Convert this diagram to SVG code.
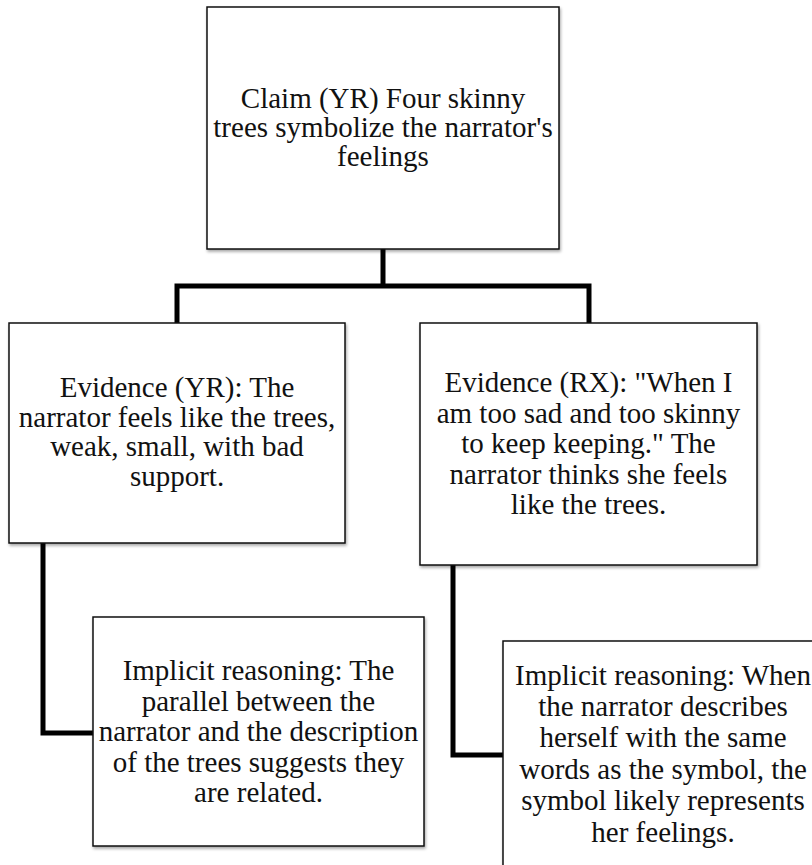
<svg xmlns="http://www.w3.org/2000/svg" width="812" height="865" viewBox="0 0 812 865">
<defs>
<filter id="sh" x="-5%" y="-5%" width="115%" height="115%">
<feDropShadow dx="1" dy="2" stdDeviation="1.5" flood-color="#000" flood-opacity="0.35"/>
</filter>
</defs>
<style>
.box{fill:#fff;stroke:#111;stroke-width:1.5;filter:url(#sh)}
.t{font-family:"Liberation Serif","Times New Roman",serif;font-size:29px;fill:#111;text-anchor:middle}
.c{fill:none;stroke:#000;stroke-width:5;stroke-linejoin:miter;stroke-linecap:square}
</style>
<rect width="812" height="865" fill="#fff"/>
<g id="connectors">
<path class="c" d="M383,250 V286 M177,286 H589 M177,286 V322 M589,286 V322"/>
<path class="c" d="M43,544 V733 H92"/>
<path class="c" d="M453,566 V755 H502"/>
</g>
<g id="claim">
<rect class="box" x="207" y="7" width="352" height="242"/>
<text class="t"><tspan x="383" y="108">Claim (YR) Four skinny</tspan><tspan x="383" y="137">trees symbolize the narrator's</tspan><tspan x="383" y="166">feelings</tspan></text>
</g>
<g id="evidence-yr">
<rect class="box" x="9" y="323" width="336" height="220"/>
<text class="t"><tspan x="177" y="397">Evidence (YR): The</tspan><tspan x="177" y="426.5">narrator feels like the trees,</tspan><tspan x="177" y="456">weak, small, with bad</tspan><tspan x="177" y="485.5">support.</tspan></text>
</g>
<g id="evidence-rx">
<rect class="box" x="420" y="323" width="337" height="242"/>
<text class="t"><tspan x="588.5" y="392">Evidence (RX): "When I</tspan><tspan x="588.5" y="422.5">am too sad and too skinny</tspan><tspan x="588.5" y="453">to keep keeping." The</tspan><tspan x="588.5" y="483.5">narrator thinks she feels</tspan><tspan x="588.5" y="514">like the trees.</tspan></text>
</g>
<g id="implicit-left">
<rect class="box" x="93" y="617" width="331" height="229"/>
<text class="t"><tspan x="258.5" y="680">Implicit reasoning: The</tspan><tspan x="258.5" y="710.5">parallel between the</tspan><tspan x="258.5" y="741">narrator and the description</tspan><tspan x="258.5" y="771.5">of the trees suggests they</tspan><tspan x="258.5" y="802">are related.</tspan></text>
</g>
<g id="implicit-right">
<rect class="box" x="503" y="641" width="320" height="240"/>
<text class="t"><tspan x="663" y="685">Implicit reasoning: When</tspan><tspan x="663" y="716">the narrator describes</tspan><tspan x="663" y="747">herself with the same</tspan><tspan x="663" y="778.5">words as the symbol, the</tspan><tspan x="663" y="810">symbol likely represents</tspan><tspan x="663" y="841.5">her feelings.</tspan></text>
</g>
</svg>
